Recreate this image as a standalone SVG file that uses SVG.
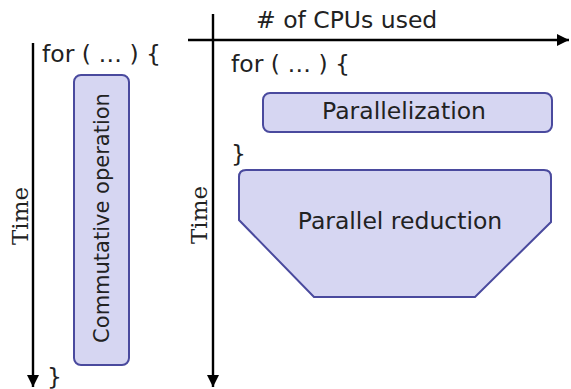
<svg xmlns="http://www.w3.org/2000/svg" width="571" height="389" viewBox="0 0 571 389">
  <defs>
    <marker id="arrow" viewBox="0 0 10 10" refX="10" refY="5" markerWidth="5" markerHeight="5" markerUnits="strokeWidth" orient="auto">
      <path d="M0,0 L10,5 L0,10 z" fill="#000"/>
    </marker>
    <style>
      .axis { stroke: #000; stroke-width: 2.4; fill: none; }
      .box { fill: #d6d6f2; stroke: #4a4a9e; stroke-width: 2; }
      .lbl { font-family: "DejaVu Sans", sans-serif; font-size: 23.5px; fill: #222; }
      .serif { font-family: "DejaVu Serif", serif; font-size: 23px; fill: #222; }
    </style>
  </defs>
  <rect width="571" height="389" fill="#fff"/>

  <g id="axes">
    <line class="axis" x1="33" y1="43" x2="33" y2="387" marker-end="url(#arrow)"/>
    <line class="axis" x1="213" y1="14" x2="213" y2="387" marker-end="url(#arrow)"/>
    <line class="axis" x1="188" y1="40" x2="569" y2="40" marker-end="url(#arrow)"/>
  </g>

  <!-- sequential loop -->
  <text class="lbl" x="42" y="62">for ( … ) {</text>
  <text class="lbl" x="47" y="385">}</text>
  <text class="serif" transform="translate(28,216) rotate(-90)" text-anchor="middle">Time</text>
  <g id="commutative">
    <rect class="box" x="74" y="75" width="55" height="290" rx="7"/>
    <text class="lbl" style="font-size:21px" transform="translate(109,218) rotate(-90)" text-anchor="middle">Commutative operation</text>
  </g>

  <!-- parallel loop -->
  <text class="lbl" x="256" y="28"># of CPUs used</text>
  <text class="lbl" x="231" y="72">for ( … ) {</text>
  <text class="lbl" x="231" y="162">}</text>
  <text class="serif" transform="translate(207,215) rotate(-90)" text-anchor="middle">Time</text>
  <g id="parallelization">
    <rect class="box" x="263" y="93" width="289" height="39" rx="7"/>
    <text class="lbl" x="404" y="119" text-anchor="middle">Parallelization</text>
  </g>
  <g id="reduction">
    <path class="box" d="M246,170 L544,170 Q551,170 551,177 L551,222 L475,297 L314,297 L239,220 L239,177 Q239,170 246,170 Z"/>
    <text class="lbl" x="400" y="229" text-anchor="middle">Parallel reduction</text>
  </g>
</svg>
